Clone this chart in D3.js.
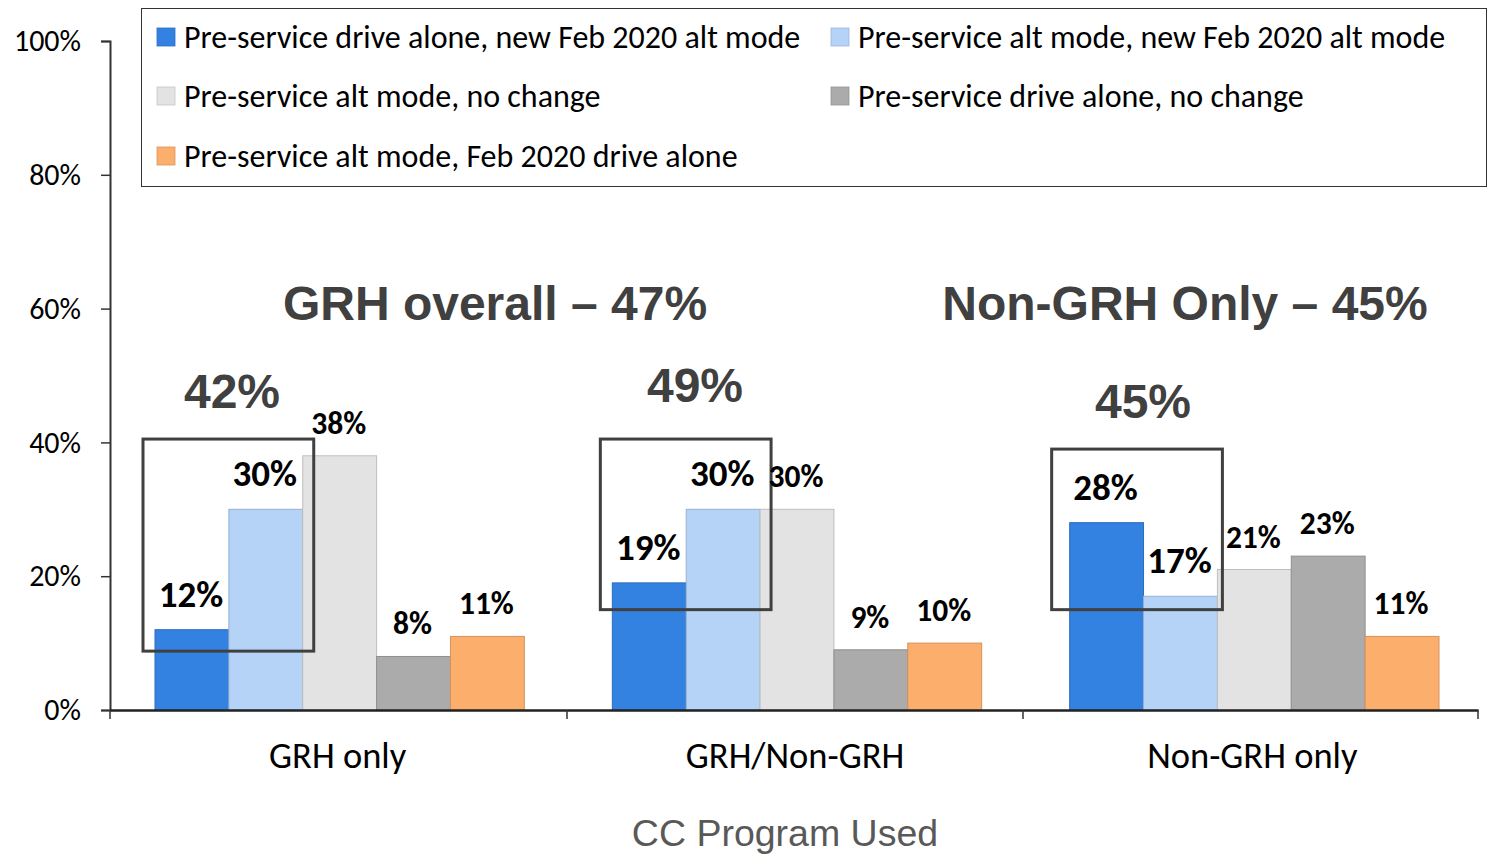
<!DOCTYPE html>
<html><head><meta charset="utf-8">
<script src="https://cdn.jsdelivr.net/npm/d3@7"></script>
<style>html,body{margin:0;padding:0;background:#fff;}svg{display:block;}</style>
</head><body>
<svg id="c" width="1488" height="854"></svg>
<script>
const categories = ["GRH only", "GRH/Non-GRH", "Non-GRH only"];
const seriesNames = [
  "Pre-service drive alone, new Feb 2020 alt mode",
  "Pre-service alt mode, new Feb 2020 alt mode",
  "Pre-service alt mode, no change",
  "Pre-service drive alone, no change",
  "Pre-service alt mode, Feb 2020 drive alone"
];
const seriesColors = ["#3381E0", "#B4D3F7", "#E3E3E3", "#ABABAB", "#FCAE6C"];
const driveAloneNewAlt = [12, 19, 28];
const altNewAlt = [30, 30, 17];
const altNoChange = [38, 30, 21];
const driveAloneNoChange = [8, 9, 23];
const altToDriveAlone = [11, 10, 11];
const seriesValues = [driveAloneNewAlt, altNewAlt, altNoChange, driveAloneNoChange, altToDriveAlone];
const groupTotals = ["42%", "49%", "45%"];
const boxRanges = [[8.8, 40.5], [15, 40.5], [15, 39]];
const yTicks = [0, 20, 40, 60, 80, 100];
const headlines = ["GRH overall – 47%", "Non-GRH Only – 45%"];
const xTitle = "CC Program Used";

const svg = d3.select("#c");
const M = {left: 110, right: 1478, top: 41, bottom: 710};
const y = d3.scaleLinear().domain([0, 100]).range([M.bottom, M.top]);
const x0 = d3.scaleBand().domain(categories).range([M.left, M.right + 4]).paddingInner(0).paddingOuter(0);
const x1 = d3.scaleBand().domain(d3.range(seriesNames.length)).range([45, x0.bandwidth() - 43]).padding(0);

const calibri = "Carlito, Calibri, Lato, 'Open Sans', sans-serif";
const arial = "'Liberation Sans', Arial, sans-serif";

// Bars
categories.forEach((cat, ci) => {
  const g = svg.append("g").attr("transform", `translate(${x0(cat)},0)`);
  seriesValues.forEach((vals, si) => {
    const v = vals[ci];
    g.append("rect")
      .attr("x", x1(si)).attr("y", y(v))
      .attr("width", x1.bandwidth()).attr("height", y(0) - y(v))
      .attr("fill", seriesColors[si])
      .attr("stroke", d3.color(seriesColors[si]).darker(0.5))
      .attr("stroke-width", 1);
  });
});

// Y axis
const yAxis = d3.axisLeft(y).tickValues(yTicks).tickFormat(d => d + "%").tickSize(9).tickPadding(20);
const ya = svg.append("g").attr("transform", `translate(${M.left},0)`).call(yAxis);
ya.select(".domain").attr("stroke", "#333").attr("stroke-width", 2);
ya.selectAll(".tick line").attr("stroke", "#333").attr("stroke-width", 1.5);
ya.selectAll(".tick text").attr("font-family", calibri).attr("font-size", 30).attr("fill", "#000");

// X axis
const xa = svg.append("g").attr("transform", `translate(0,${M.bottom})`)
  .call(d3.axisBottom(d3.scaleLinear().range([M.left, M.right])).tickSize(0).tickFormat("").ticks(0));
xa.select(".domain").attr("stroke", "#222").attr("stroke-width", 2.5);
const bounds = [110, 567, 1023, 1478];
svg.append("g").selectAll("line").data(bounds).join("line")
  .attr("x1", d => d).attr("x2", d => d).attr("y1", M.bottom).attr("y2", M.bottom + 9)
  .attr("stroke", "#333").attr("stroke-width", 1.5);
svg.append("g").selectAll("text").data(categories).join("text")
  .attr("x", d => x0(d) + x0.bandwidth() / 2 - 1).attr("y", 768)
  .attr("text-anchor", "middle").attr("font-family", calibri).attr("font-size", 36.5).attr("fill", "#000")
  .text(d => d);
svg.append("text").attr("x", 785).attr("y", 846).attr("text-anchor", "middle")
  .attr("font-family", arial).attr("font-size", 37.5).attr("fill", "#595959").text(xTitle);

// Boxes
const boxShift = [0, 0, -6];
categories.forEach((cat, ci) => {
  const bx = x0(cat) + x1(0) - 12 + boxShift[ci];
  const bw = x1(1) + x1.bandwidth() + 11 - x1(0) + 12;
  svg.append("rect").attr("x", bx).attr("y", y(boxRanges[ci][1]))
    .attr("width", bw).attr("height", y(boxRanges[ci][0]) - y(boxRanges[ci][1]))
    .attr("fill", "none").attr("stroke", "#404040").attr("stroke-width", 3);
});

// Data labels
const bigLabel = [[true, true, false, false, false], [true, true, false, false, false], [true, true, false, false, false]];
categories.forEach((cat, ci) => {
  seriesValues.forEach((vals, si) => {
    const v = vals[ci];
    const big = bigLabel[ci][si];
    svg.append("text")
      .attr("x", x0(cat) + x1(si) + x1.bandwidth() / 2 - 1)
      .attr("y", y(v) - (big ? 23 : 22))
      .attr("text-anchor", "middle").attr("font-family", calibri).attr("font-weight", "bold")
      .attr("font-size", big ? 37 : 31.5).attr("fill", "#000")
      .text(v + "%");
  });
});

// Group totals
const totalPos = [[232, 408], [695, 402], [1143, 418]];
svg.append("g").selectAll("text").data(groupTotals).join("text")
  .attr("x", (d, i) => totalPos[i][0]).attr("y", (d, i) => totalPos[i][1])
  .attr("text-anchor", "middle").attr("font-family", arial).attr("font-weight", "bold")
  .attr("font-size", 48).attr("fill", "#404040").text(d => d);

// Headlines
const headPos = [495, 1185];
svg.append("g").selectAll("text").data(headlines).join("text")
  .attr("x", (d, i) => headPos[i]).attr("y", 320)
  .attr("text-anchor", "middle").attr("font-family", arial).attr("font-weight", "bold")
  .attr("font-size", 48).attr("fill", "#404040").text(d => d);

// Legend (row1: s0, s1; row2: s2, s3; row3: s4)
svg.append("rect").attr("x", 141.5).attr("y", 8.5).attr("width", 1345).attr("height", 178)
  .attr("fill", "#fff").attr("stroke", "#333").attr("stroke-width", 1);
const legPos = [[157, 37], [831, 37], [157, 96], [831, 96], [157, 156]];
seriesNames.forEach((name, si) => {
  const [lx, ly] = legPos[si];
  svg.append("rect").attr("x", lx).attr("y", ly - 9).attr("width", 18).attr("height", 18)
    .attr("fill", seriesColors[si]).attr("stroke", d3.color(seriesColors[si]).darker(0.4)).attr("stroke-width", 0.8);
  svg.append("text").attr("x", lx + 27).attr("y", ly + 11)
    .attr("font-family", calibri).attr("font-size", 32).attr("fill", "#000")
    .text(name);
});
</script>
</body></html>
